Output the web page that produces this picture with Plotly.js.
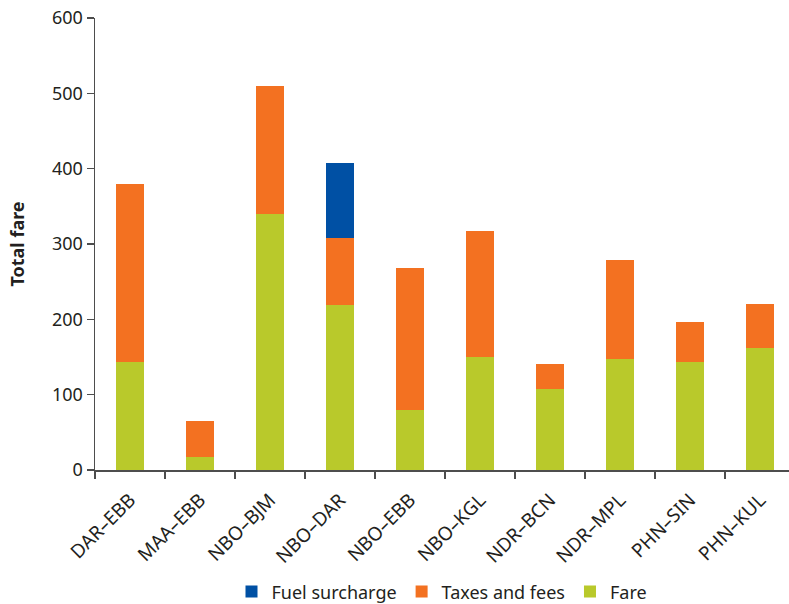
<!DOCTYPE html>
<html>
<head>
<meta charset="utf-8">
<script src="https://cdn.plot.ly/plotly-3.0.1.min.js"></script>
<style>html,body{margin:0;padding:0;background:#fff;}#chart{width:789px;height:604px;}</style>
</head>
<body>
<div id="chart"></div>
<script>
const routes = ["DAR–EBB","MAA–EBB","NBO–BJM","NBO–DAR","NBO–EBB","NBO–KGL","NDR–BCN","NDR–MPL","PHN–SIN","PHN–KUL"];
const fare = [144, 17, 340, 219, 80, 150, 107, 147, 144, 162];
const taxesAndFees = [236, 48, 170, 89, 188, 167, 34, 132, 53, 58];
const fuelSurcharge = [0, 0, 0, 100, 0, 0, 0, 0, 0, 0];

const font = "'Noto Sans', 'Open Sans', sans-serif";
const textColor = "#231f20";

const traces = [
  {type:"bar", name:"Fare", x:routes, y:fare, marker:{color:"#b9c92b"}, width:0.4},
  {type:"bar", name:"Taxes and fees", x:routes, y:taxesAndFees, marker:{color:"#f37121"}, width:0.4},
  {type:"bar", name:"Fuel surcharge", x:routes, y:fuelSurcharge, marker:{color:"#0050a4"}, width:0.4}
];

const layout = {
  width:789, height:604,
  margin:{l:95, r:0, t:18, b:134},
  barmode:"stack",
  paper_bgcolor:"#fff", plot_bgcolor:"#fff",
  font:{family:font, color:textColor, size:18},
  showlegend:true,
  legend:{orientation:"h", traceorder:"reversed", x:0.5, xanchor:"center",
          yref:"container", y:0.02, yanchor:"middle",
          font:{size:18, color:textColor}},
  xaxis:{type:"category", range:[-0.5, 9.414], showline:true, linecolor:"#4d4d4d", linewidth:1.5,
         ticks:"outside", tickson:"boundaries", ticklen:7, tickcolor:"#4d4d4d", tickwidth:1.5,
         tickangle:-45, tickfont:{size:19}, ticklabelstandoff:10,
         showgrid:false, zeroline:false, automargin:false},
  yaxis:{range:[0,600], dtick:100, showline:true, linecolor:"#4d4d4d", linewidth:1.5,
         ticks:"outside", ticklen:7, tickcolor:"#4d4d4d", tickwidth:1.5,
         tickfont:{size:18}, showgrid:false, zeroline:false, automargin:false,
         title:{text:"<b>Total fare</b>", font:{size:18}, standoff:22}}
};

Plotly.newPlot("chart", traces, layout, {displayModeBar:false, staticPlot:true});
</script>
</body>
</html>
